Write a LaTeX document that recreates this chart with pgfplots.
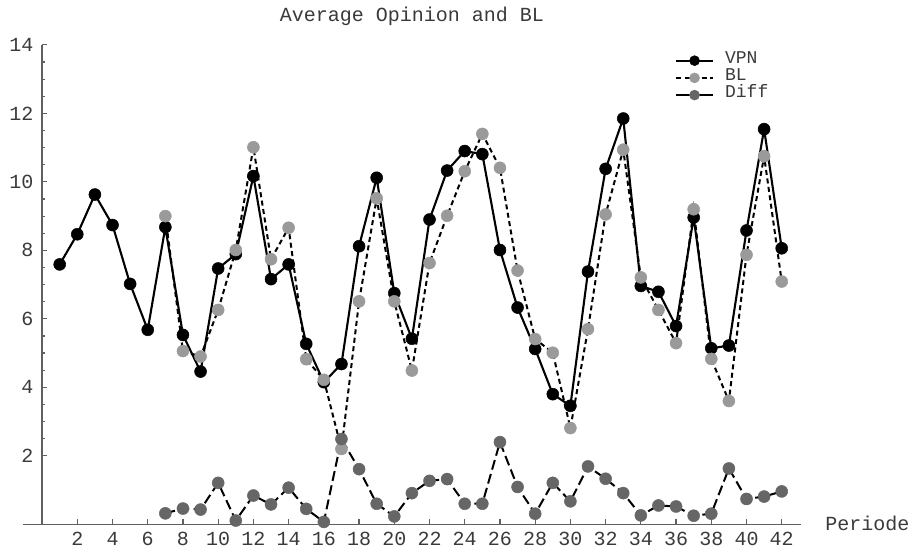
\documentclass[border=0pt]{standalone}
\usepackage{pgfplots}
\pgfplotsset{compat=1.18}
\usepackage{fontspec}
\setmainfont{Liberation Mono}
\definecolor{blgray}{HTML}{9A9A9A}
\definecolor{diffgray}{HTML}{666666}
\definecolor{axgray}{HTML}{606060}
\definecolor{txtgray}{HTML}{3A3A3A}
\begin{document}
\begin{tikzpicture}
\begin{axis}[
  scale only axis,
  width=778.4pt, height=479.4pt,
  xmin=-1.1, xmax=43.1, ymin=0, ymax=14,
  enlargelimits=false,
  axis lines*=middle,
  axis line style={-, color=axgray, line width=1.3pt},
  tick style={color=axgray, line width=1.2pt},
  tick align=inside,
  major tick length=5pt, minor tick length=3pt,
  xtick={2,4,...,42}, ytick={2,4,...,14},
  minor y tick num=3,
  /pgf/number format/assume math mode=true,
  tick label style={font=\fontsize{20}{20}\selectfont, text=txtgray, inner sep=0pt},
  xticklabel style={anchor=base, yshift=-21.2pt, text depth=0pt},
  yticklabel style={anchor=east, xshift=-8.5pt},
  title={Average Opinion and BL},
  title style={at={(0.5,1)}, anchor=base, yshift=16.9pt, inner sep=0pt, font=\fontsize{20}{20}\selectfont, text=txtgray},
  xlabel={Periode},
  xlabel style={at={(rel axis cs:1,0)}, anchor=base west, xshift=24pt, yshift=-6pt, inner sep=0pt, font=\fontsize{20}{20}\selectfont, text=txtgray},
  clip=false,
  legend image code/.code={
    \draw[mark repeat=2,mark phase=2,#1, mark size=5pt] plot coordinates {(0pt,0pt) (18.5pt,0pt) (37pt,0pt)};
  },
  legend style={at={(rel axis cs:0.838,0.985)}, anchor=north west, draw=none, fill=none,
    inner sep=0pt, outer sep=0pt, row sep=0pt,
    font=\fontsize{18}{18}\selectfont, text=txtgray,
    nodes={inner sep=0pt, text height=11.2pt, text depth=6pt},
    /tikz/every odd column/.append style={column sep=11pt}},
  legend cell align=left,
]
\coordinate (O) at (rel axis cs:0,0);
\addplot[black, line width=2.1pt, mark=*, mark size=6pt, mark options={solid, fill=black, draw=black, line width=0.5pt}] coordinates {
(1,7.59) (2,8.47) (3,9.63) (4,8.74) (5,7.02) (6,5.68) (7,8.68) (8,5.53) (9,4.46) (10,7.47)
(11,7.89) (12,10.17) (13,7.16) (14,7.59) (15,5.27) (16,4.15) (17,4.68) (18,8.12) (19,10.12) (20,6.75)
(21,5.42) (22,8.90) (23,10.33) (24,10.90) (25,10.81) (26,8.01) (27,6.33) (28,5.12) (29,3.80) (30,3.46)
(31,7.38) (32,10.38) (33,11.85) (34,6.96) (35,6.79) (36,5.79) (37,8.96) (38,5.14) (39,5.22) (40,8.58)
(41,11.54) (42,8.06)};
\addlegendentry{VPN}
\addplot[black, line width=2pt, dash pattern=on 5pt off 3.5pt, mark=*, mark size=6pt, mark options={solid, fill=blgray, draw=blgray, line width=0.5pt}] coordinates {
(7,9.00) (8,5.06) (9,4.90) (10,6.26) (11,8.01) (12,11.01) (13,7.74) (14,8.66) (15,4.82) (16,4.22)
(17,2.20) (18,6.51) (19,9.52) (20,6.51) (21,4.49) (22,7.63) (23,9.01) (24,10.31) (25,11.40) (26,10.41)
(27,7.41) (28,5.41) (29,5.01) (30,2.81) (31,5.70) (32,9.05) (33,10.94) (34,7.21) (35,6.26) (36,5.29)
(37,9.20) (38,4.83) (39,3.60) (40,7.87) (41,10.75) (42,7.09)};
\addlegendentry{BL}
\addplot[black, line width=2pt, dash pattern=on 10pt off 4.5pt, mark=*, mark size=6pt, mark options={solid, fill=diffgray, draw=diffgray, line width=0.5pt}, legend image post style={solid}] coordinates {
(7,0.32) (8,0.46) (9,0.43) (10,1.21) (11,0.11) (12,0.84) (13,0.58) (14,1.07) (15,0.45) (16,0.07)
(17,2.49) (18,1.61) (19,0.60) (20,0.23) (21,0.91) (22,1.27) (23,1.32) (24,0.60) (25,0.60) (26,2.40)
(27,1.09) (28,0.31) (29,1.21) (30,0.67) (31,1.69) (32,1.33) (33,0.91) (34,0.26) (35,0.55) (36,0.52)
(37,0.25) (38,0.31) (39,1.63) (40,0.74) (41,0.81) (42,0.96)};
\addlegendentry{Diff}
\end{axis}
\pgfresetboundingbox
\path ([shift={(-22.7pt,-23.7pt)}]O) rectangle ([shift={(885.3pt,524.3pt)}]O);
\end{tikzpicture}
\end{document}
